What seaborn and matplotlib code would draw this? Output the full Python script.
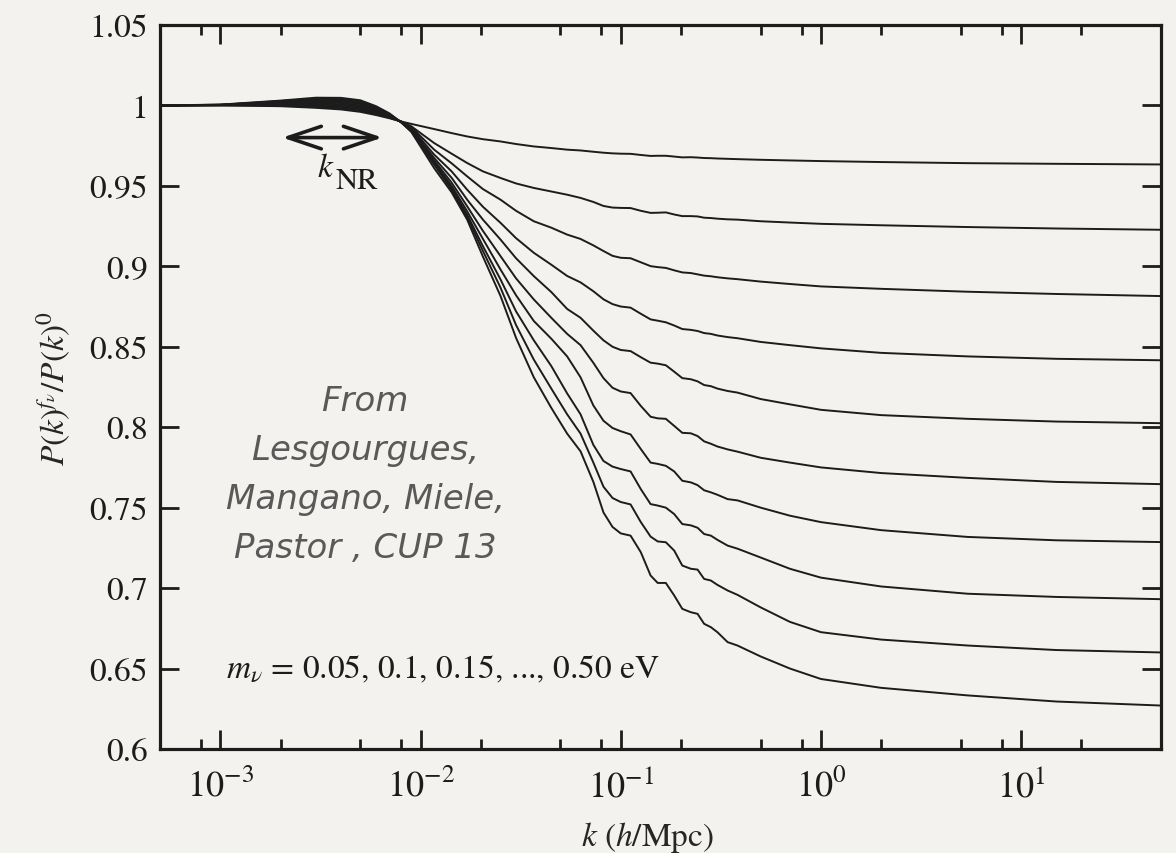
import numpy as np
import pandas as pd
import matplotlib
matplotlib.use("Agg")
import matplotlib.pyplot as plt
from matplotlib.ticker import LogLocator, FixedLocator, FixedFormatter, NullLocator, NullFormatter
import seaborn as sns

# wavenumbers k (h/Mpc) at which the ratios are sampled
K_VALUES = [5.0e-4, 1.0e-3, 2.0e-3, 3.0e-3, 4.0e-3, 5.0e-3, 6.0e-3, 7.0e-3, 8.0e-3, 9.0e-3,
            0.0117, 0.0143, 0.0171, 0.0205, 0.0251, 0.030, 0.0368,
            0.045, 0.054, 0.063, 0.073, 0.082, 0.091, 0.100, 0.112, 0.126, 0.141,
            0.153, 0.168, 0.185, 0.203, 0.224, 0.242, 0.261, 0.282, 0.304, 0.342,
            0.383, 0.5, 0.7, 1.0, 2.0, 5.4, 15.0, 50.0]

MASSES_EV = [0.05, 0.10, 0.15, 0.20, 0.25, 0.30, 0.35, 0.40, 0.45, 0.50]

# P(k)^{f_nu} / P(k)^0 for each neutrino mass
RATIO_005 = [1.000, 1.000, 0.9995, 0.9985, 0.9975, 0.9960, 0.9940, 0.9920, 0.9900, 0.9885,
             0.9853, 0.9828, 0.9807, 0.9790, 0.9776, 0.9760, 0.9745,
             0.9735, 0.9725, 0.9720, 0.9712, 0.9706, 0.9702, 0.9700, 0.9699, 0.9692, 0.9686,
             0.9687, 0.9687, 0.9682, 0.9677, 0.9678, 0.9676, 0.9673, 0.9672, 0.9670, 0.9668,
             0.9666, 0.9662, 0.9658, 0.9654, 0.9648, 0.9641, 0.9637, 0.9633]
RATIO_010 = [1.000, 1.0001, 0.9999, 0.9992, 0.9983, 0.9968, 0.9946, 0.9923, 0.9900, 0.9870,
             0.9766, 0.9700, 0.9642, 0.9590, 0.9549, 0.9515, 0.9487,
             0.9465, 0.9445, 0.9425, 0.9400, 0.9375, 0.9365, 0.9363, 0.9362, 0.9345, 0.9332,
             0.9333, 0.9335, 0.9322, 0.9312, 0.9312, 0.9310, 0.9302, 0.9300, 0.9296, 0.9292,
             0.9290, 0.9280, 0.9272, 0.9264, 0.9255, 0.9244, 0.9235, 0.9227]
RATIO_015 = [1.000, 1.0001, 1.0003, 0.9999, 0.9991, 0.9976, 0.9952, 0.9927, 0.9900, 0.9865,
             0.9725, 0.9640, 0.9559, 0.9480, 0.9414, 0.9345, 0.9280,
             0.9240, 0.9197, 0.9170, 0.9130, 0.9095, 0.9065, 0.9053, 0.9050, 0.9025, 0.9001,
             0.8995, 0.8990, 0.8975, 0.8962, 0.8958, 0.8950, 0.8942, 0.8938, 0.8932, 0.8925,
             0.8920, 0.8905, 0.8890, 0.8875, 0.8860, 0.8842, 0.8828, 0.8815]
RATIO_020 = [1.000, 1.0002, 1.0007, 1.0006, 0.9999, 0.9984, 0.9958, 0.9930, 0.9898, 0.9860,
             0.9694, 0.9590, 0.9476, 0.9370, 0.9270, 0.9175, 0.9084,
             0.9010, 0.8940, 0.8900, 0.8845, 0.8795, 0.8765, 0.8750, 0.8743, 0.8705, 0.8670,
             0.8662, 0.8652, 0.8632, 0.8610, 0.8605, 0.8598, 0.8585, 0.8580, 0.8570, 0.8560,
             0.8553, 0.8530, 0.8510, 0.8490, 0.8462, 0.8440, 0.8425, 0.8416]
RATIO_025 = [1.000, 1.0002, 1.0011, 1.0013, 1.0007, 0.9992, 0.9964, 0.9933, 0.9898, 0.9855,
             0.9673, 0.9550, 0.9414, 0.9290, 0.9166, 0.9050, 0.8939,
             0.8840, 0.8735, 0.8680, 0.8600, 0.8540, 0.8500, 0.8480, 0.8473, 0.8435, 0.8401,
             0.8395, 0.8385, 0.8345, 0.8305, 0.8298, 0.8285, 0.8262, 0.8255, 0.8240, 0.8225,
             0.8215, 0.8175, 0.8142, 0.8108, 0.8075, 0.8052, 0.8035, 0.8025]
RATIO_030 = [1.000, 1.0003, 1.0015, 1.0020, 1.0015, 1.0000, 0.9970, 0.9937, 0.9897, 0.9850,
             0.9658, 0.9520, 0.9373, 0.9220, 0.9063, 0.8925, 0.8794,
             0.8680, 0.8580, 0.8510, 0.8400, 0.8305, 0.8245, 0.8222, 0.8212, 0.8132, 0.8065,
             0.8055, 0.8052, 0.8008, 0.7965, 0.7962, 0.7945, 0.7912, 0.7897, 0.7880, 0.7862,
             0.7848, 0.7810, 0.7780, 0.7750, 0.7715, 0.7685, 0.7660, 0.7646]
RATIO_035 = [1.000, 1.0003, 1.0019, 1.0027, 1.0023, 1.0008, 0.9976, 0.9940, 0.9896, 0.9845,
             0.9646, 0.9500, 0.9342, 0.9170, 0.8980, 0.8820, 0.8660,
             0.8550, 0.8440, 0.8310, 0.8135, 0.8040, 0.7995, 0.7975, 0.7955, 0.7864, 0.7780,
             0.7772, 0.7760, 0.7725, 0.7667, 0.7657, 0.7640, 0.7608, 0.7595, 0.7580, 0.7553,
             0.7545, 0.7500, 0.7450, 0.7410, 0.7360, 0.7318, 0.7297, 0.7286]
RATIO_040 = [1.000, 1.0004, 1.0023, 1.0034, 1.0031, 1.0016, 0.9982, 0.9943, 0.9896, 0.9842,
             0.9638, 0.9485, 0.9321, 0.9125, 0.8918, 0.8720, 0.8540,
             0.8380, 0.8210, 0.8080, 0.7890, 0.7790, 0.7755, 0.7740, 0.7725, 0.7615, 0.7522,
             0.7513, 0.7500, 0.7460, 0.7398, 0.7390, 0.7375, 0.7336, 0.7326, 0.7300, 0.7264,
             0.7245, 0.7190, 0.7120, 0.7065, 0.7010, 0.6965, 0.6945, 0.6931]
RATIO_045 = [1.000, 1.0004, 1.0027, 1.0041, 1.0039, 1.0024, 0.9988, 0.9947, 0.9895, 0.9838,
             0.9632, 0.9475, 0.9307, 0.9095, 0.8867, 0.8635, 0.8420,
             0.8240, 0.8080, 0.7960, 0.7780, 0.7630, 0.7560, 0.7535, 0.7520, 0.7410, 0.7320,
             0.7290, 0.7285, 0.7233, 0.7140, 0.7120, 0.7115, 0.7057, 0.7047, 0.7020, 0.6985,
             0.6958, 0.6880, 0.6790, 0.6726, 0.6680, 0.6643, 0.6615, 0.6600]
RATIO_050 = [1.000, 1.0005, 1.0030, 1.0048, 1.0047, 1.0032, 0.9995, 0.9950, 0.9895, 0.9835,
             0.9610, 0.9460, 0.9290, 0.9060, 0.8815, 0.8555, 0.8310,
             0.8120, 0.7960, 0.7850, 0.7660, 0.7470, 0.7380, 0.7340, 0.7326, 0.7223, 0.7078,
             0.7032, 0.7032, 0.6954, 0.6871, 0.6850, 0.6840, 0.6778, 0.6757, 0.6726, 0.6664,
             0.6643, 0.6575, 0.6500, 0.6435, 0.6380, 0.6333, 0.6295, 0.6270]

Y_TICKS = [0.6, 0.65, 0.7, 0.75, 0.8, 0.85, 0.9, 0.95, 1.0, 1.05]
Y_TICK_LABELS = ["0.6", "0.65", "0.7", "0.75", "0.8", "0.85", "0.9", "0.95", "1", "1.05"]

X_LABEL = r"$k$ ($h$/Mpc)"
Y_LABEL = r"$P(k)^{f_\nu}/P(k)^0$"
MASS_NOTE = r"$m_\nu$ = 0.05, 0.1, 0.15, ..., 0.50 eV"
SOURCE_NOTE = "From\nLesgourgues,\nMangano, Miele,\nPastor , CUP 13"

all_ratios = [RATIO_005, RATIO_010, RATIO_015, RATIO_020, RATIO_025,
              RATIO_030, RATIO_035, RATIO_040, RATIO_045, RATIO_050]
frames = [pd.DataFrame({"k": K_VALUES, "ratio": r, "mass": m})
          for m, r in zip(MASSES_EV, all_ratios)]
df = pd.concat(frames, ignore_index=True)

sns.set_style("ticks")
BG = "#f3f2ee"
INK = "#1c1c1c"
plt.rcParams["font.family"] = ["STIXGeneral", "DejaVu Serif"]
plt.rcParams["mathtext.fontset"] = "stix"
plt.rcParams["axes.edgecolor"] = INK
plt.rcParams["xtick.color"] = INK
plt.rcParams["ytick.color"] = INK

fig = plt.figure(figsize=(11.76, 8.54), dpi=100, facecolor=BG)
ax = fig.add_axes([0.1361, 0.1218, 0.8512, 0.8478])
ax.set_facecolor(BG)

sns.lineplot(data=df, x="k", y="ratio", units="mass", estimator=None, sort=False,
             color=INK, linewidth=1.4, legend=False, ax=ax)

ax.set_xscale("log")
ax.set_xlim(5e-4, 50)
ax.set_ylim(0.6, 1.05)

ax.xaxis.set_major_locator(LogLocator(base=10, numticks=20))
ax.xaxis.set_minor_locator(LogLocator(base=10, subs=(2.0, 5.0, 8.0), numticks=20))
ax.xaxis.set_minor_formatter(NullFormatter())
ax.yaxis.set_major_locator(FixedLocator(Y_TICKS))
ax.yaxis.set_major_formatter(FixedFormatter(Y_TICK_LABELS))
ax.yaxis.set_minor_locator(NullLocator())

for side in ax.spines.values():
    side.set_linewidth(2.3)
    side.set_visible(True)
ax.tick_params(which="both", direction="in", top=True, right=True, width=2.0, color=INK)
ax.tick_params(which="major", length=14)
ax.tick_params(which="minor", length=7)
ax.tick_params(axis="y", labelsize=24, pad=9)
ax.tick_params(axis="x", labelsize=26, pad=14)

ax.set_xlabel(X_LABEL, fontsize=24)
ax.set_ylabel(Y_LABEL, fontsize=24)
ax.xaxis.set_label_coords(0.487, -0.097)
ax.yaxis.set_label_coords(-0.088, 0.5)

# non-relativistic transition marker
ax.annotate("", xy=(6.45e-3, 0.980), xytext=(2.04e-3, 0.980),
            arrowprops=dict(arrowstyle="<->, head_length=0.8, head_width=0.27",
                            mutation_scale=30, lw=2.6, color=INK,
                            shrinkA=0, shrinkB=0))
ax.text(3.05e-3, 0.9559, "$k$", fontsize=24, ha="left", va="baseline", color=INK)
ax.text(3.76e-3, 0.9487, "NR", fontsize=22, ha="left", va="baseline", color=INK)

ax.text(1.07e-3, 0.65, MASS_NOTE, fontsize=24, ha="left", va="center", color=INK)

ax.text(0.205, 0.38, SOURCE_NOTE, transform=ax.transAxes, fontsize=24.5,
        family=["DejaVu Sans"], style="oblique", color="#595959",
        ha="center", va="center", multialignment="center", linespacing=1.62)

fig.savefig("out.png", dpi=100, facecolor=BG)
